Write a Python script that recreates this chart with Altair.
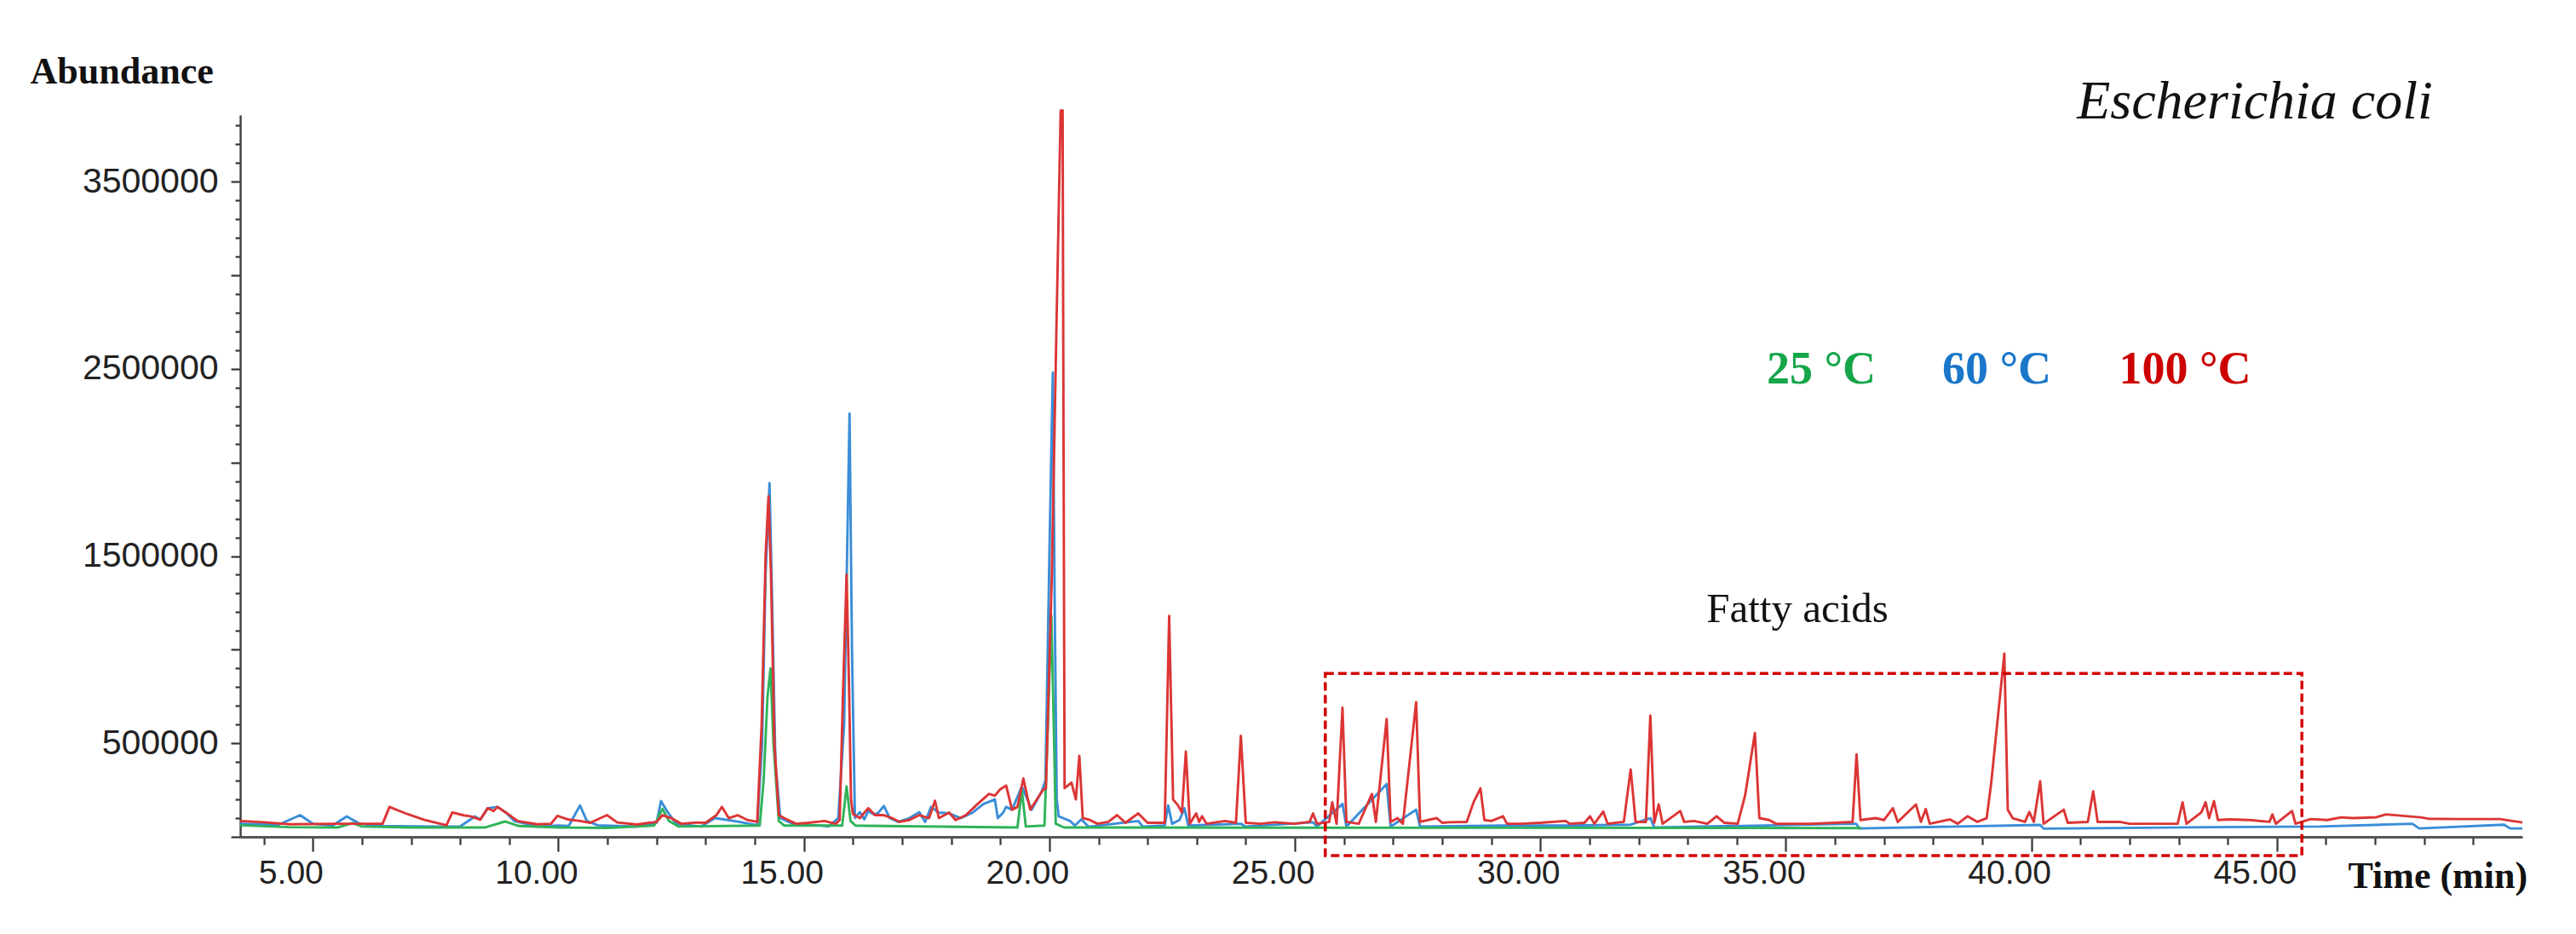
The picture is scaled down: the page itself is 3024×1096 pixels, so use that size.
import altair as alt
import pandas as pd

# ---------------- data ----------------
# 100 °C trace (red)
RED_T = [3.52, 4.0, 4.54, 5.5, 6.42, 6.56, 6.91, 7.26, 7.72, 7.84, 8.07, 8.21, 8.41, 8.56, 8.68, 8.76, 8.93,
         9.17, 9.57, 9.85, 9.98, 10.21, 10.44, 10.65, 10.99, 11.2, 11.6, 12.0, 12.12, 12.3, 12.5, 12.81, 13.0,
         13.22, 13.33, 13.47, 13.65, 13.85, 14.05, 14.14, 14.22, 14.28, 14.33, 14.40, 14.49, 14.6, 14.84, 15.1,
         15.42, 15.65, 15.73, 15.80, 15.87, 15.92, 15.96, 16.0, 16.14, 16.31, 16.45, 16.63, 16.8, 16.95, 17.15,
         17.35, 17.55, 17.67, 17.75, 17.96, 18.09, 18.3, 18.54, 18.77, 18.89, 19.0, 19.12, 19.24, 19.35, 19.47,
         19.61, 19.76, 19.87, 19.93, 20.05, 20.15, 20.23, 20.27, 20.29, 20.31, 20.45, 20.54, 20.61, 20.68, 20.80,
         20.98, 21.2, 21.38, 21.55, 21.81, 22.0, 22.35, 22.44, 22.52, 22.62, 22.70, 22.78, 22.86, 22.99, 23.05,
         23.11, 23.2, 23.58, 23.8, 23.90, 24.0, 24.3, 24.59, 25.0, 25.3, 25.37, 25.45, 25.7, 25.76, 25.85, 25.97,
         26.05, 26.3, 26.57, 26.65, 26.87, 26.95, 27.09, 27.2, 27.47, 27.55, 27.89, 28.0, 28.15, 28.5, 28.64,
         28.78, 28.86, 29.0, 29.24, 29.32, 29.6, 30.0, 30.51, 30.6, 30.9, 31.01, 31.1, 31.28, 31.37, 31.7, 31.84,
         31.94, 32.15, 32.24, 32.32, 32.41, 32.49, 32.85, 32.93, 33.13, 33.4, 33.59, 33.75, 34.02, 34.17, 34.37,
         34.46, 34.66, 34.8, 35.5, 36.0, 36.36, 36.44, 36.52, 36.83, 37.0, 37.18, 37.28, 37.65, 37.75, 37.85,
         37.93, 38.34, 38.5, 38.70, 38.9, 39.09, 39.18, 39.45, 39.52, 39.62, 39.87, 39.96, 40.05, 40.18, 40.25,
         40.66, 40.74, 41.15, 41.26, 41.35, 41.8, 42.0, 42.98, 43.08, 43.16, 43.46, 43.55, 43.62, 43.72, 43.80,
         44.04, 44.44, 44.85, 44.91, 44.98, 45.31, 45.38, 45.69, 46.03, 46.31, 46.55, 47.03, 47.22, 47.93, 48.08,
         48.67, 49.54, 50.0]
RED_A = [85000, 78000, 67000, 70000, 70000, 160000, 123000, 92000, 62000, 130000, 115000, 110000, 92000, 153000,
         138000, 160000, 130000, 85000, 67000, 70000, 112000, 92000, 85000, 75000, 116000, 77000, 66000, 80000,
         116000, 100000, 70000, 77000, 75000, 116000, 160000, 100000, 116000, 90000, 80000, 600000, 1500000,
         1820000, 1400000, 500000, 116000, 100000, 70000, 75000, 85000, 70000, 90000, 800000, 1400000, 800000,
         200000, 122000, 100000, 153000, 116000, 116000, 100000, 80000, 90000, 116000, 100000, 193000, 100000,
         130000, 90000, 116000, 176000, 229000, 220000, 254000, 274000, 145000, 160000, 312000, 145000, 206000,
         251000, 260000, 1400000, 2800000, 3880000, 3880000, 2000000, 260000, 290000, 200000, 433000, 100000,
         93000, 70000, 80000, 116000, 75000, 125000, 75000, 75000, 1180000, 200000, 168000, 130000, 456000, 70000,
         125000, 80000, 110000, 70000, 85000, 75000, 540000, 75000, 70000, 78000, 70000, 80000, 125000, 70000,
         80000, 185000, 70000, 690000, 80000, 70000, 229000, 80000, 630000, 80000, 100000, 70000, 720000, 80000,
         100000, 75000, 78000, 80000, 185000, 259000, 90000, 85000, 110000, 70000, 70000, 75000, 85000, 70000,
         75000, 110000, 70000, 135000, 70000, 80000, 360000, 80000, 80000, 648000, 75000, 173000, 70000, 138000,
         80000, 85000, 70000, 110000, 75000, 70000, 221000, 555000, 100000, 90000, 70000, 70000, 75000, 80000,
         441000, 90000, 100000, 90000, 153000, 80000, 173000, 80000, 149000, 70000, 93000, 70000, 110000, 80000,
         100000, 282000, 979000, 145000, 100000, 80000, 133000, 80000, 297000, 70000, 145000, 75000, 80000,
         244000, 80000, 80000, 70000, 70000, 185000, 70000, 130000, 185000, 100000, 191000, 90000, 93000, 90000,
         80000, 120000, 70000, 138000, 70000, 95000, 90000, 104000, 100000, 105000, 120000, 104000, 97000, 95000,
         95000, 77000]

# 60 °C trace (blue)
BLUE_T = [3.52, 4.3, 4.74, 5.0, 5.4, 5.69, 5.95, 6.4, 7.5, 8.0, 8.30, 8.41, 8.56, 8.76, 8.93, 9.1, 9.57, 10.0,
          10.21, 10.44, 10.58, 10.8, 11.6, 12.0, 12.09, 12.23, 12.4, 12.9, 13.19, 13.39, 13.68, 14.05, 14.15,
          14.22, 14.30, 14.35, 14.42, 14.52, 14.84, 15.3, 15.5, 15.70, 15.82, 15.93, 15.98, 16.04, 16.14, 16.23,
          16.31, 16.42, 16.51, 16.63, 16.75, 16.92, 17.15, 17.35, 17.47, 17.59, 17.74, 17.96, 18.2, 18.44, 18.66,
          18.89, 18.95, 19.06, 19.12, 19.24, 19.44, 19.64, 19.84, 19.92, 20.0, 20.07, 20.11, 20.15, 20.19, 20.28,
          20.42, 20.52, 20.65, 20.8, 21.81, 21.9, 22.35, 22.42, 22.5, 22.65, 22.75, 22.83, 23.9, 24.0, 25.37,
          25.45, 25.97, 26.05, 26.87, 26.95, 27.47, 27.55, 29.24, 30.5, 31.84, 32.24, 32.32, 36.43, 36.5, 40.18,
          40.25, 43.72, 45.86, 47.76, 47.9, 49.63, 49.75, 50.0]
BLUE_A = [70000, 65000, 116000, 70000, 60000, 109000, 70000, 58000, 55000, 56000, 109000, 92000, 153000, 160000,
          130000, 85000, 55000, 60000, 58000, 168000, 85000, 62000, 55000, 75000, 191000, 130000, 70000, 55000,
          100000, 92000, 80000, 62000, 500000, 1400000, 1890000, 1300000, 400000, 100000, 62000, 62000, 55000,
          100000, 600000, 2260000, 1000000, 101000, 132000, 93000, 138000, 120000, 127000, 165000, 100000, 80000,
          100000, 132000, 80000, 160000, 130000, 125000, 100000, 130000, 176000, 200000, 100000, 130000, 160000,
          145000, 270000, 145000, 240000, 300000, 1500000, 2480000, 1200000, 200000, 110000, 100000, 85000, 60000,
          93000, 54000, 85000, 55000, 60000, 168000, 70000, 90000, 153000, 60000, 70000, 55000, 78000, 55000,
          176000, 55000, 282000, 55000, 145000, 55000, 60000, 60000, 65000, 100000, 50000, 70000, 45000, 64000,
          44000, 52000, 55000, 70000, 45000, 65000, 45000, 45000]

# 25 °C trace (green)
GREEN_T = [3.52, 4.5, 5.5, 5.81, 6.0, 7.0, 8.5, 8.91, 9.2, 10.0, 11.0, 11.95, 12.12, 12.25, 12.45, 14.1, 14.18,
           14.26, 14.32, 14.38, 14.49, 14.6, 15.78, 15.87, 15.95, 16.05, 19.35, 19.44, 19.52, 19.90, 19.97, 20.04,
           20.09, 20.13, 20.3, 36.54]
GREEN_A = [62000, 52000, 50000, 73000, 55000, 50000, 50000, 82000, 58000, 50000, 48000, 60000, 150000, 85000,
           55000, 60000, 300000, 750000, 900000, 500000, 85000, 60000, 60000, 270000, 85000, 60000, 50000, 250000,
           55000, 60000, 600000, 1180000, 600000, 70000, 50000, 47000]

# axes
X_DOMAIN = [3.52, 50.0]
Y_DOMAIN = [0, 3856000]
X_TICKS = list(range(4, 50))               # one tick per minute, labelled every 5
Y_TICKS = list(range(0, 3900000, 100000))  # one tick per 100000

# annotation box (fatty acids region)
BOX_T = [25.62, 45.51]
BOX_A = [-100000, 873000]

LEGEND_LABELS = ["25 °C", "60 °C", "100 °C"]
LEGEND_COLORS = ["#16a64a", "#1a76c9", "#cc0000"]
TRACE_COLORS = {"25": "#2fb35a", "60": "#3a8dd8", "100": "#dc3535"}

TITLE_TEXT = ["Escherichia coli"]
BOX_LABEL = ["Fatty acids"]

# ---------------- chart ----------------
W, H = 2679, 847

x_scale = alt.Scale(domain=X_DOMAIN, nice=False, zero=False)
y_scale = alt.Scale(domain=Y_DOMAIN, nice=False, zero=False)

x_axis = alt.Axis(
    values=X_TICKS,
    labelExpr="datum.value % 5 === 0 ? format(datum.value, '.2f') : ''",
    tickSize={"condition": {"test": "datum.value % 5 === 0", "value": 17}, "value": 9},
    labelOverlap=False, labelFlush=False, grid=False,
    labelFont="Liberation Sans", labelFontSize=39, labelColor="#222222",
    labelOffset=-26, labelPadding=6,
    domainColor="#555555", domainWidth=3, tickColor="#333333", tickWidth=2.2,
    title="Time (min)", titleFont="Liberation Serif", titleFontWeight="bold", titleFontSize=44,
    titleColor="#111111", titleAngle=0, titleAlign="left", titleBaseline="alphabetic",
    titleX=2474, titleY=59,
)
y_axis = alt.Axis(
    values=Y_TICKS,
    labelExpr="datum.value % 1000000 === 500000 ? format(datum.value, 'd') : ''",
    tickSize={"condition": {"test": "datum.value % 500000 === 0", "value": 11}, "value": 6},
    labelOverlap=False, labelFlush=False, grid=False,
    labelFont="Liberation Sans", labelFontSize=41, labelColor="#222222",
    labelPadding=15,
    domainColor="#444444", domainWidth=2.5, tickColor="#333333", tickWidth=2.2,
    title="Abundance", titleFont="Liberation Serif", titleFontWeight="bold", titleFontSize=44,
    titleColor="#111111", titleAngle=0, titleAlign="left", titleBaseline="alphabetic",
    titleX=-247, titleY=-38,
)


def trace(ts, vals, color):
    df = pd.DataFrame({"t": ts, "a": vals})
    return alt.Chart(df).mark_line(color=color, strokeWidth=2.9, strokeJoin="round").encode(
        x=alt.X("t:Q", scale=x_scale, axis=x_axis),
        y=alt.Y("a:Q", scale=y_scale, axis=y_axis),
    )


blue = trace(BLUE_T, BLUE_A, TRACE_COLORS["60"])
green = trace(GREEN_T, GREEN_A, TRACE_COLORS["25"])
red = trace(RED_T, RED_A, TRACE_COLORS["100"])

box_df = pd.DataFrame({"t0": [BOX_T[0]], "t1": [BOX_T[1]], "a0": [BOX_A[0]], "a1": [BOX_A[1]]})
box = alt.Chart(box_df).mark_rect(
    fillOpacity=0, stroke="#d40000", strokeWidth=3.5, strokeDash=[10, 5]
).encode(
    x=alt.X("t0:Q", scale=x_scale, axis=x_axis), x2="t1:Q",
    y=alt.Y("a0:Q", scale=y_scale, axis=y_axis), y2="a1:Q",
)

fatty = alt.Chart(pd.DataFrame({"label": BOX_LABEL})).mark_text(
    font="Liberation Serif", fontSize=49, color="#111111", align="center", baseline="alphabetic"
).encode(text="label:N", x=alt.value(1828), y=alt.value(595))

title = alt.Chart(pd.DataFrame({"label": TITLE_TEXT})).mark_text(
    font="Liberation Serif", fontSize=64, fontStyle="italic", color="#111111", align="center",
    baseline="alphabetic"
).encode(text="label:N", x=alt.value(2365), y=alt.value(4))

legend_x = [1856, 2062, 2283]
legend_layers = []
for lab, col, px in zip(LEGEND_LABELS, LEGEND_COLORS, legend_x):
    legend_layers.append(
        alt.Chart(pd.DataFrame({"label": [lab]})).mark_text(
            font="Liberation Serif", fontSize=54, fontWeight="bold", color=col, align="center",
            baseline="alphabetic"
        ).encode(text="label:N", x=alt.value(px), y=alt.value(315))
    )

chart = alt.layer(blue, green, red, box, fatty, title, *legend_layers).properties(
    width=W, height=H,
    autosize=alt.AutoSizeParams(type="none"),
    padding={"left": 274, "top": 127, "right": 55, "bottom": 106},
    background="white",
).configure_view(stroke=None)

chart.save("out.html", embed_options={"renderer": "svg", "actions": False})
